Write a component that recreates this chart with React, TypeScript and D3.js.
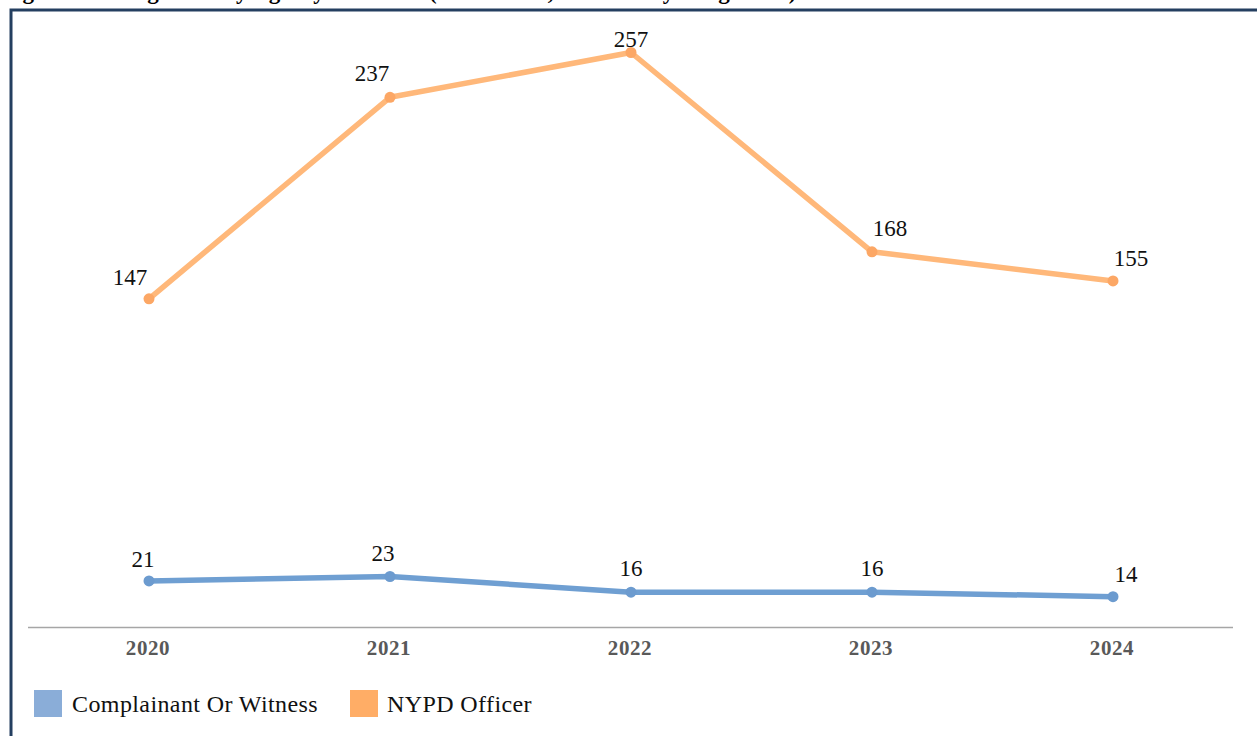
import { useEffect, useRef } from 'react';
import * as d3 from 'd3';

const years = ['2020', '2021', '2022', '2023', '2024'];
const complainantValues = [21, 23, 16, 16, 14];
const officerValues = [147, 237, 257, 168, 155];
const seriesNames = ['Complainant Or Witness', 'NYPD Officer'];

const W = 1257;
const H = 736;

// label nudges (px) so they sit like the original
const officerLabelOffsets: [number, number][] = [[-19, -14], [-18, -16], [0, -6], [18, -16], [18, -15]];
const complainantLabelOffsets: [number, number][] = [[-6, -14], [-7, -15], [0, -16], [0, -16], [13, -15]];

export default function App() {
  const svgRef = useRef<SVGSVGElement>(null);

  useEffect(() => {
    if (!svgRef.current) return;
    const svg = d3.select(svgRef.current);
    svg.selectAll('*').remove();

    const serif = "'Liberation Serif', 'DejaVu Serif', serif";

    // title sits above the crop, only its descenders show
    svg.append('text')
      .attr('x', 2)
      .attr('y', -1.5)
      .style('font-family', serif)
      .style('font-size', '23px')
      .style('font-weight', 'bold')
      .style('fill', '#000')
      .text('Figure 24: Allegations by Agency of Person (2020 - 2024, Discourtesy Allegations)');

    // frame
    svg.append('path')
      .attr('d', `M11,${H} L11,10 L${W},10`)
      .attr('fill', 'none')
      .attr('stroke', '#243f60')
      .attr('stroke-width', 3);

    const x = d3.scaleBand<string>()
      .domain(years)
      .range([28.5, 1233.5]);
    const cx = (d: string) => (x(d) || 0) + x.bandwidth() / 2;

    const y = d3.scaleLinear()
      .domain([0, 280])
      .range([628, 1]);

    // x axis
    const axis = svg.append('g')
      .attr('transform', 'translate(-1,627)')
      .call(d3.axisBottom(x).tickSize(0).tickPadding(13));
    axis.select('.domain').attr('stroke', '#a6a6a6').attr('stroke-width', 1.5);
    axis.selectAll('text')
      .style('font-family', serif)
      .style('font-size', '21px')
      .style('letter-spacing', '0.6px')
      .style('font-weight', 'bold')
      .style('fill', '#595959');

    const line = d3.line<number>()
      .x((_, i) => cx(years[i]))
      .y(d => y(d));

    const series = [
      { values: complainantValues, lineColor: '#6f9fd2', dotColor: '#6c9bcf', offsets: complainantLabelOffsets },
      { values: officerValues, lineColor: '#ffb87a', dotColor: '#fca765', offsets: officerLabelOffsets }
    ];

    series.forEach(s => {
      svg.append('path')
        .datum(s.values)
        .attr('fill', 'none')
        .attr('stroke', s.lineColor)
        .attr('stroke-width', 5.5)
        .attr('stroke-linejoin', 'round')
        .attr('d', line);

      svg.append('g')
        .selectAll('circle')
        .data(s.values)
        .enter().append('circle')
        .attr('cx', (_, i) => cx(years[i]))
        .attr('cy', d => y(d))
        .attr('r', 5.5)
        .attr('fill', s.dotColor);

      svg.append('g')
        .selectAll('text')
        .data(s.values)
        .enter().append('text')
        .attr('x', (_, i) => cx(years[i]) + s.offsets[i][0])
        .attr('y', (d, i) => y(d) + s.offsets[i][1])
        .attr('text-anchor', 'middle')
        .style('font-family', serif)
        .style('font-size', '23px')
        .style('fill', '#111')
        .text(d => String(d));
    });

    // legend
    const legend = svg.append('g');
    const legendItems = [
      { name: seriesNames[0], color: '#8aadd8', x: 34, tx: 72 },
      { name: seriesNames[1], color: '#ffad66', x: 350, tx: 387 }
    ];
    legendItems.forEach(item => {
      legend.append('rect')
        .attr('x', item.x)
        .attr('y', 690)
        .attr('width', 28)
        .attr('height', 27)
        .attr('fill', item.color);
      legend.append('text')
        .attr('x', item.tx)
        .attr('y', 712)
        .style('font-family', serif)
        .style('font-size', '24px')
        .style('letter-spacing', '0.4px')
        .style('fill', '#111')
        .text(item.name);
    });
  }, []);

  return (
    <svg
      ref={svgRef}
      width={W}
      height={H}
      style={{ position: 'absolute', left: 0, top: 0, background: '#fff' }}
    />
  );
}
